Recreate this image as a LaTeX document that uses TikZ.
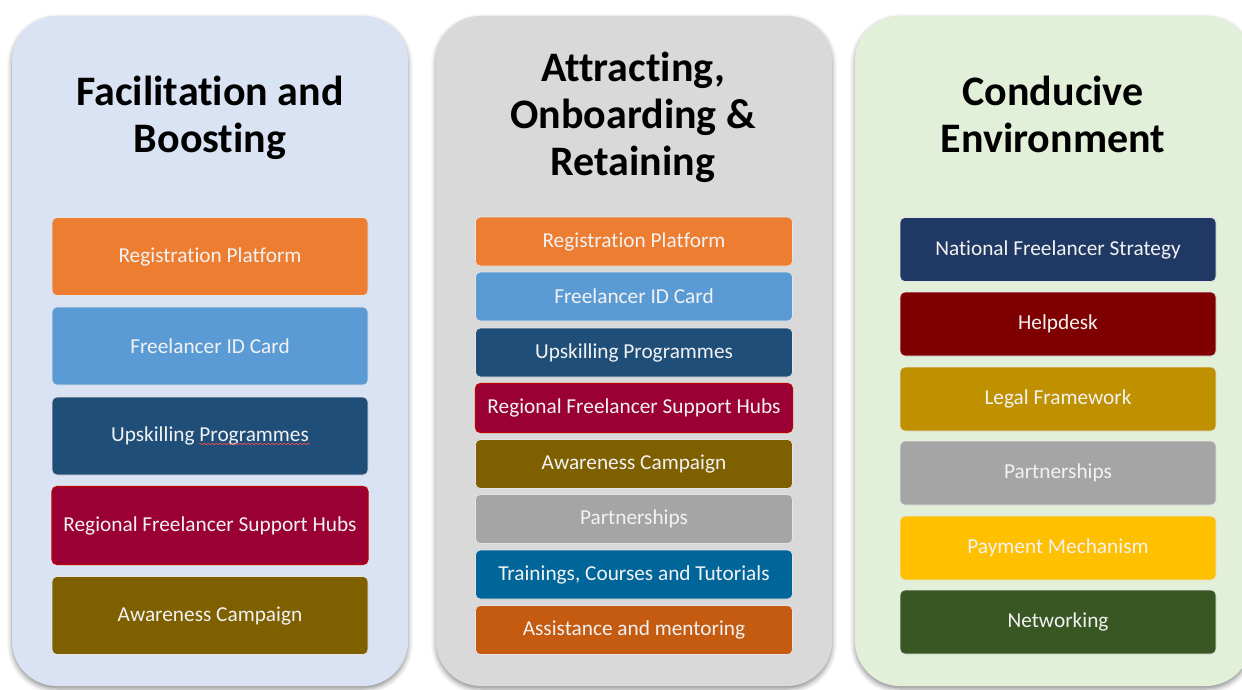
\documentclass[tikz,border=0pt]{standalone}
\usepackage{fontspec}
\setmainfont{Carlito}[Ligatures=NoCommon]
\usetikzlibrary{shadows.blur,decorations.pathmorphing}
\definecolor{pblue}{HTML}{DAE3F3}
\definecolor{pgrey}{HTML}{D9D9D9}
\definecolor{pgreen}{HTML}{E2F0D9}
\definecolor{corange}{HTML}{ED7D31}
\definecolor{clblue}{HTML}{5B9BD5}
\definecolor{cdblue}{HTML}{1F4E79}
\definecolor{cwine}{HTML}{9B0034}
\definecolor{cbrown}{HTML}{7F6000}
\definecolor{cgrey}{HTML}{A5A5A5}
\definecolor{cteal}{HTML}{006699}
\definecolor{crust}{HTML}{C55A11}
\definecolor{cnavy}{HTML}{203864}
\definecolor{cmaroon}{HTML}{7F0000}
\definecolor{cgold}{HTML}{BF9000}
\definecolor{cyellow}{HTML}{FFC000}
\definecolor{cgreen}{HTML}{385723}
\tikzset{
  panel/.style={rectangle,rounded corners=45pt,minimum width=396pt,minimum height=670pt,
    blur shadow={shadow xshift=0pt,shadow yshift=-3pt,shadow blur radius=5pt,shadow opacity=45}},
  ttl/.style={align=center,text=black,font=\fontsize{42}{47}\selectfont\bfseries},
  item/.style={rectangle,rounded corners=5pt,draw=black!10,line width=0.6pt,inner sep=0pt,
    text=white!95!black,font=\fontsize{21.3}{25}\selectfont},
  big/.style={item,minimum width=316pt,minimum height=78pt},
  mid/.style={item,minimum width=317pt,minimum height=49pt},
  tall/.style={item,minimum width=316pt,minimum height=64pt}
}
\begin{document}
\begin{tikzpicture}[x=1pt,y=-1pt]
\useasboundingbox (0,0) rectangle (1242,689);
% panels
\node[panel,fill=pblue] (pa) at (210,351) {};
\node[panel,fill=pgrey] (pb) at (634,351) {};
\node[panel,fill=pgreen] (pc) at (1053,351) {};
% titles
\node[ttl,anchor=base] (ta) at (210,152) {Facilitation and\\Boosting};
\node[ttl,anchor=base] (tb) at (633,175) {Attracting,\\Onboarding \&\\Retaining};
\node[ttl,anchor=base] (tc) at (1053,152) {Conducive\\Environment};
% facilitation and boosting
\node[big,fill=corange] (a1) at (210,256.5) {Registration Platform};
\node[big,fill=clblue] (a2) at (210,346) {Freelancer ID Card};
\node[big,fill=cdblue] (a3) at (210,436) {Upskilling Programmes};
\node[big,fill=cwine,draw=red!75!black,line width=1.2pt] (a4) at (210,525.5) {Regional Freelancer Support Hubs};
\node[big,fill=cbrown] (a5) at (210,615.5) {Awareness Campaign};
\draw[red!70,line width=0.6pt,decorate,decoration={snake,segment length=4pt,amplitude=0.7pt}]
  (199,444) -- (310,444);
% attracting, onboarding and retaining
\node[mid,fill=corange] (b1) at (634,241.5) {Registration Platform};
\node[mid,fill=clblue] (b2) at (634,296.5) {Freelancer ID Card};
\node[mid,fill=cdblue] (b3) at (634,352.5) {Upskilling Programmes};
\node[mid,fill=cwine,draw=red!75!black,line width=1.2pt] (b4) at (634,408) {Regional Freelancer Support Hubs};
\node[mid,fill=cbrown] (b5) at (634,464) {Awareness Campaign};
\node[mid,fill=cgrey] (b6) at (634,519) {Partnerships};
\node[mid,fill=cteal] (b7) at (634,574.5) {Trainings, Courses and Tutorials};
\node[mid,fill=crust] (b8) at (634,630) {Assistance and mentoring};
% conducive environment
\node[tall,fill=cnavy] (c1) at (1058,249.5) {National Freelancer Strategy};
\node[tall,fill=cmaroon] (c2) at (1058,324) {Helpdesk};
\node[tall,fill=cgold] (c3) at (1058,399) {Legal Framework};
\node[tall,fill=cgrey] (c4) at (1058,473) {Partnerships};
\node[tall,fill=cyellow] (c5) at (1058,548) {Payment Mechanism};
\node[tall,fill=cgreen] (c6) at (1058,622) {Networking};
\end{tikzpicture}
\end{document}
